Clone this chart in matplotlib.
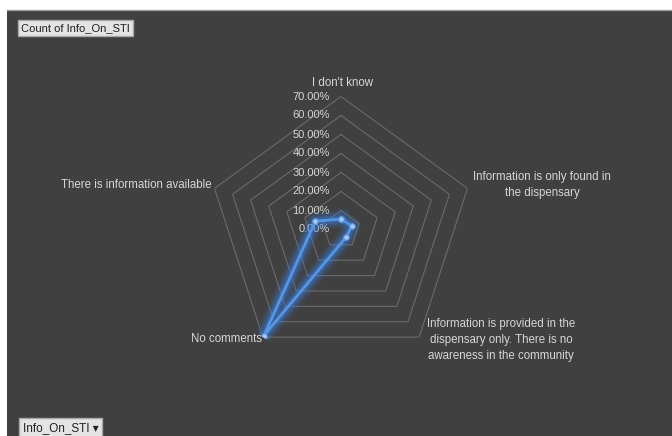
import matplotlib
matplotlib.use("Agg")
import matplotlib.pyplot as plt
import numpy as np
from matplotlib.patches import Rectangle
from matplotlib.lines import Line2D

# Data (share of responses)
categories = ["I don't know",
              "Information is only found in\nthe dispensary",
              "Information is provided in the\ndispensary only. There is no\nawareness in the community",
              "No comments",
              "There is information available"]
values = [0.055, 0.060, 0.048, 0.690, 0.142]
ring_levels = [0.0, 0.1, 0.2, 0.3, 0.4, 0.5, 0.6, 0.7]
ring_labels = ["0.00%", "10.00%", "20.00%", "30.00%", "40.00%", "50.00%", "60.00%", "70.00%"]

bg = "#404040"
txt = "#d6d6d6"
plt.rcParams["font.family"] = ["Liberation Sans", "DejaVu Sans"]

fig = plt.figure(figsize=(6.72, 4.36), dpi=100, facecolor="white")
# dark chart area with white margin top/left
fig.patches.append(Rectangle((7/672, 0), 1, 426/436, transform=fig.transFigure,
                             facecolor=bg, edgecolor="none", zorder=-10))
fig.lines.append(Line2D([7/672, 1], [426/436, 426/436], transform=fig.transFigure,
                        color="#9a9a9a", lw=1, zorder=-9))

cx, cy, R = 341/672, 1 - 229.5/436, 133
ax = fig.add_axes([cx - R/672, cy - R/436, 2*R/672, 2*R/436], projection="polar")
ax.set_theta_offset(np.pi/2)
ax.set_theta_direction(-1)
ax.set_ylim(0, 0.7)
ax.set_axis_off()

n = len(categories)
theta = np.linspace(0, 2*np.pi, n, endpoint=False)
theta_c = np.append(theta, theta[0])

# pentagon gridlines
for r in ring_levels[1:]:
    ax.plot(theta_c, [r]*(n+1), color="#6a6a6a", lw=0.8, zorder=1)

# radial value labels
for r, lab in zip(ring_levels, ring_labels):
    ax.annotate(lab, xy=(0, r), xytext=(-11, 0), textcoords="offset pixels",
                ha="right", va="center", color=txt, fontsize=8)

# category labels
offsets = [(1, 14, "center"), (6, 3, "left"), (82, -3, "center"), (-1, -2, "right"), (-3, 3, "right")]
for t, lab, (dx, dy, ha) in zip(theta, categories, offsets):
    ax.annotate(lab, xy=(t, 0.7), xytext=(dx, dy), textcoords="offset pixels",
                ha=ha, va="center", multialignment="center", color=txt,
                fontsize=8.3, linespacing=1.45)

# series with glow
vals_c = values + values[:1]
for lw, a in [(13, 0.12), (9, 0.2), (5.5, 0.35)]:
    ax.plot(theta_c, vals_c, color="#3a7fe0", lw=lw, alpha=a, solid_joinstyle="round", zorder=3)
ax.plot(theta_c, vals_c, color="#5596e6", lw=2, zorder=4, marker="o", markersize=4,
        markerfacecolor="#a9c9f2", markeredgecolor="#5596e6", markeredgewidth=0.8)

# field buttons
fig.text(21/672, 1 - 28/436, "Count of Info_On_STI", fontsize=8, color="#202020",
         ha="left", va="center",
         bbox=dict(boxstyle="square,pad=0.25", facecolor="#e4e4e4", edgecolor="#a8a8a8"))
fig.text(23/672, 1 - 428/436, "Info_On_STI \u25be", fontsize=8.5, color="#202020",
         ha="left", va="center",
         bbox=dict(boxstyle="square,pad=0.3", facecolor="#e4e4e4", edgecolor="#a8a8a8"))

fig.savefig("out.png", dpi=100, facecolor=fig.get_facecolor())
